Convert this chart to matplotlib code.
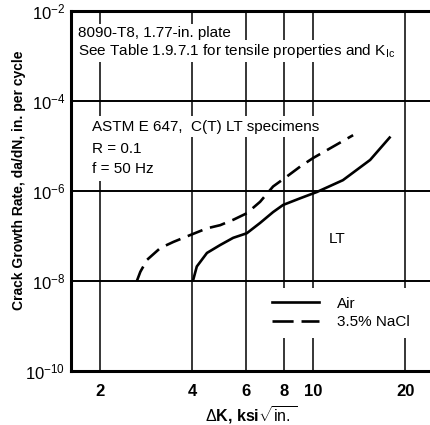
import matplotlib
matplotlib.use("Agg")
import matplotlib.pyplot as plt
from matplotlib import font_manager
from matplotlib.lines import Line2D
from matplotlib.ticker import FixedLocator, FixedFormatter, LogFormatterSciNotation

# Pick a narrow sans face when available
names = {f.name for f in font_manager.fontManager.ttflist}
FAMILY = "Liberation Sans Narrow" if "Liberation Sans Narrow" in names else "Liberation Sans"
plt.rcParams["font.family"] = [FAMILY, "DejaVu Sans"]
plt.rcParams["mathtext.fontset"] = "custom"
plt.rcParams["mathtext.rm"] = FAMILY
plt.rcParams["mathtext.bf"] = FAMILY + ":bold"

# Fatigue crack growth data, 8090-T8 plate, LT orientation
air_dk = [4.03, 4.15, 4.48, 4.95, 5.46, 6.05, 6.69, 7.38, 7.96, 9.06, 10.27, 12.5, 15.35, 17.9]
air_rate = [1.0e-8, 2.1e-8, 4.2e-8, 6.3e-8, 9.1e-8, 1.15e-7, 1.95e-7, 3.4e-7,
            4.9e-7, 6.9e-7, 9.5e-7, 1.74e-6, 4.9e-6, 1.62e-5]

nacl_dk = [2.64, 2.71, 2.85, 3.15, 3.48, 3.95, 4.48, 4.95, 5.47, 6.05, 6.69, 7.38,
           8.19, 9.06, 9.98, 13.5]
nacl_rate = [1.0e-8, 1.6e-8, 2.95e-8, 5.4e-8, 7.4e-8, 1.05e-7, 1.48e-7, 1.74e-7,
             2.3e-7, 3.2e-7, 5.75e-7, 1.26e-6, 2.1e-6, 3.5e-6, 5.4e-6, 1.74e-5]

x_ticks = [2, 4, 6, 8, 10, 20]
y_ticks = [1e-10, 1e-8, 1e-6, 1e-4, 1e-2]

DASH = (0, (6, 3))

fig = plt.figure(figsize=(4.31, 4.25), dpi=100)
ax = fig.add_axes([71 / 431, 1 - 371 / 425, 1 - 71 / 431, 360 / 425])
ax.set_xscale("log")
ax.set_yscale("log")
ax.set_xlim(1.606, 24.3)
ax.set_ylim(1e-10, 1e-2)

# grid
for yv in y_ticks[1:-1]:
    ax.axhline(yv, color="black", lw=1.4, zorder=1)
for xv in x_ticks:
    ax.axvline(xv, color="black", lw=1.1, zorder=1)

ax.plot(air_dk, air_rate, color="black", lw=1.9, solid_capstyle="butt", zorder=3)
ax.plot(nacl_dk, nacl_rate, color="black", lw=1.9, ls=DASH, zorder=3)

for s in ["left", "top", "bottom"]:
    ax.spines[s].set_linewidth(2.2)
ax.spines["right"].set_visible(False)

ax.xaxis.set_major_locator(FixedLocator(x_ticks))
ax.xaxis.set_major_formatter(FixedFormatter([str(v) for v in x_ticks]))
ax.xaxis.set_minor_locator(FixedLocator([]))
ax.yaxis.set_major_locator(FixedLocator(y_ticks))
ax.yaxis.set_major_formatter(LogFormatterSciNotation())
ax.yaxis.set_minor_locator(FixedLocator([]))
ax.tick_params(axis="x", length=0, pad=9)
ax.tick_params(axis="y", length=0, pad=4)
for lab in ax.get_xticklabels():
    lab.set_fontsize(12)
    lab.set_fontweight("bold")
for lab in ax.get_yticklabels():
    lab.set_fontsize(12)

ax.set_xlabel(r"$\Delta$K, ksi$\sqrt{\mathrm{in.}}$", fontsize=11.5, fontweight="bold")
ax.set_ylabel("Crack Growth Rate, da/dN, in. per cycle", fontsize=10, fontweight="bold")
ax.xaxis.set_label_coords(0.5, -0.092)
ax.yaxis.set_label_coords(-0.125, 0.53)

# annotation lines, each on its own white patch so grid lines stop behind it
notes = [
    (0.020, 0.927, "8090-T8, 1.77-in. plate", 1.5),
    (0.020, 0.878, "See Table 1.9.7.1 for tensile properties and K$_{\\mathrm{Ic}}$", 1.5),
    (0.058, 0.667, "ASTM E 647,  C(T) LT specimens", 2.5),
    (0.058, 0.606, "R = 0.1", 3.5),
    (0.058, 0.550, "f = 50 Hz", 3.5),
]
for nx, ny, s, p in notes:
    ax.text(nx, ny, s, transform=ax.transAxes, fontsize=11, va="baseline", ha="left",
            bbox=dict(facecolor="white", edgecolor="none", pad=p), zorder=4)
ax.text(0.715, 0.355, "LT", transform=ax.transAxes, fontsize=11, va="baseline",
        ha="left", zorder=4)

handles = [Line2D([], [], color="black", lw=1.9),
           Line2D([], [], color="black", lw=1.9, ls=(0, (8, 3)))]
leg = ax.legend(handles, ["Air", "3.5% NaCl"], loc="center left",
                bbox_to_anchor=(0.532, 0.161), fontsize=11, frameon=True,
                handlelength=3.1, handletextpad=1.2, labelspacing=0.3,
                borderpad=0.6, borderaxespad=0, fancybox=False)
leg.get_frame().set_facecolor("white")
leg.get_frame().set_edgecolor("none")
leg.get_frame().set_alpha(1)
leg.set_zorder(5)

fig.savefig("out.png", dpi=100)
